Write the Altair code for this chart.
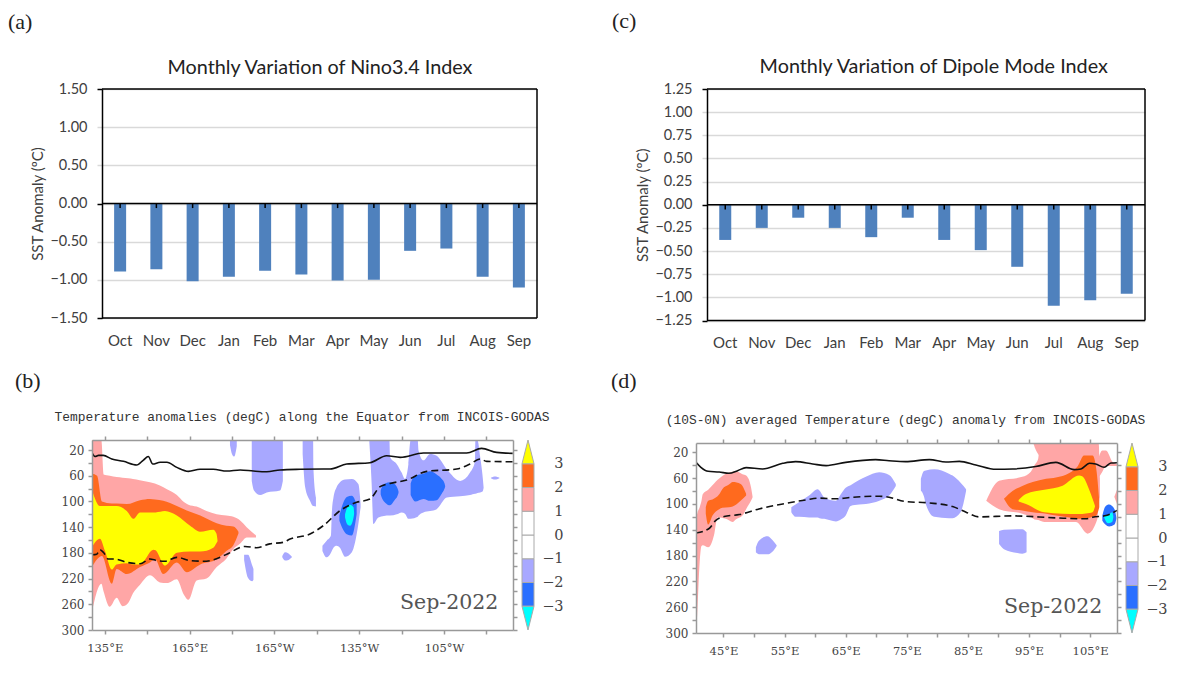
import altair as alt
import pandas as pd

MONTHS = ["Oct", "Nov", "Dec", "Jan", "Feb", "Mar", "Apr", "May", "Jun", "Jul", "Aug", "Sep"]
NINO = [-0.89, -0.86, -1.02, -0.96, -0.88, -0.93, -1.01, -1.00, -0.62, -0.59, -0.96, -1.10]
DMI = [-0.38, -0.25, -0.14, -0.25, -0.35, -0.14, -0.38, -0.49, -0.67, -1.09, -1.03, -0.96]
NINO_TICKS = [-1.5, -1.0, -0.5, 0.0, 0.5, 1.0, 1.5]
DMI_TICKS = [-1.25, -1.0, -0.75, -0.5, -0.25, 0.0, 0.25, 0.5, 0.75, 1.0, 1.25]

PINK, ORANGE, YELLOW = "#ffa6a6", "#ff6a1e", "#ffff00"
LBLUE, MBLUE, CYAN = "#a8a8ff", "#2a6fff", "#00ffff"

# Panel b contours: (longitude east, upper depth, lower depth)
B_PINK = [(130.5,4.4,272),(133.8,4.4,228),(134.6,58,240),(136.8,60,264),(139.2,62,250),(141.3,63,263),
          (143.3,64,258),(145,65,243),(147.4,67,230),(151,70,215),(154.5,75,226),(157,81,227),(160.5,90,221),
          (163,101,245),(164.6,105,253),(167.5,108,223),(171,115,220),(174.6,120,202),(178,122,189),
          (180.5,124,174),(183,130,165),(185.2,140,156),(188.5,153,156)]
B_ORANGE = [(130.5,57,202),(132.3,60,190),(134,100,185),(137.5,103,228),(139.2,103,205),(142.8,104,213),
            (147.5,98,202),(151,96,195),(152.8,97,190),(155.7,99,213),(160.5,107,195),(164,114,210),
            (168.8,122,198),(174.6,134,190),(178,138,177),(180.5,139,168),(182.3,147,150)]
B_YELLOW = [(130.5,82,171),(133.3,107,158),(135.1,107,177),(137.5,107,206),(139.2,107,198),(142.8,115,196),
            (145.1,127,198),(147.5,117,198),(152.2,117,175),(153,117,176),(156.3,115,200),(160.5,122,180),
            (165.2,138,178),(168.7,147,178),(173.4,144,172),(174.5,150,165),(174.9,161,162)]
B_BLUE_1 = [(179.3,4.4,12),(180,4.4,26),(180.8,4.4,30),(181.7,4.4,14)]
B_BLUE_2 = [(187,4.4,68),(187.8,4.4,83),(190,4.4,90),(192.3,4.4,86),(197,4.4,83),(198,4.4,68)]
B_BLUE_3 = [(184.3,183,191),(185.7,183,219),(187.2,200,224),(187.6,205,222)]
B_BLUE_4 = [(197.8,185,187),(198.8,179,192),(200,181,191),(201.2,186,187)]
B_BLUE_5 = [(205,4.5,26),(205.9,4.5,78),(207.6,4.5,99),(208.7,4.5,107),(208.8,47,107),(209.7,94,108)]
B_BLUE_6 = [(212,169,177),(213.5,161,187),(215,153,180),(215.3,120,177),(215.9,94,172),(217,78,169),(218.2,70,172),
            (220,66,186),(222.4,65,179),(224.7,73,135),(225.5,104,109)]
B_BLUE_7 = [(228.6,4.5,8),(229.4,4.5,72),(230,4.5,135),(231.8,4.5,125),(235.7,4.5,122),(235.9,31,122),
            (238.3,42,120),(240,55,117),(241.2,65,119),(242.4,42,127),(243.2,4.5,127),(245.7,4.5,124),
            (246,21,122),(247.7,36,117),(250.1,26,115),(252.4,29,112),(256,50,94),(260.7,68,92),(264.2,55,90),
            (266,37,88),(266.1,4.5,88),(266.8,4.5,87),(267.8,31,86),(268.7,63,84),(269,78,79)]
B_BLUE_8 = [(271.6,63,64),(273,61,66),(274.6,63,64)]
B_MID_1 = [(218,122,130),(219.2,104,143),(220.6,93,151),(222.4,91,153),(224.1,104,120)]
B_MID_2 = [(232.6,83,89),(233.2,76,96),(234.2,72,102),(235.9,70,106),(237.5,73,98),(238.5,79,92),(238.9,84,87)]
B_MID_3 = [(243.2,72,90),(243.8,65,95),(244.8,60,100),(247.7,57,96),(250.1,53,99),(252.4,58,98),(254.2,65,88),(255.2,72,80),(255.4,76,77)]
B_CYAN = [(220,120,125),(220.8,109,136),(221.8,105,138),(223,109,125),(223.2,117,120)]
B_SOLID_LON = [130.4,131.6,132.8,134.5,137.5,141.6,146.3,148.7,150.4,152,154.6,157,160.5,164.6,168.7,173.4,
               178.2,182.9,187.6,192.3,197,204.1,212.3,214.7,220.6,228.8,234.7,239.5,247.7,263,268.3,273.6,279.3]
B_SOLID_DEPTH = [23.6,30,28.3,28.3,34,37.6,43.3,35.6,30,41.8,39,39,47,53.2,50,50,52.7,51,52.7,53.7,51,50,
                 49.6,49.6,41.8,39.7,28.9,31.4,24.7,24.7,17.4,23.7,25.2]
B_DASH_LON = [130.4,132.2,133.3,134.5,136.3,138.6,142.8,147.5,151,153.4,156.3,160.5,165.2,169.9,173.4,178.2,
              184.6,188.7,193.4,198.1,200.55,207.6,212.3,218.2,224.1,228.8,232.4,235.9,241.8,248.9,259.5,264.2,
              267.8,270.1,279.3]
B_DASH_DEPTH = [183,182,175,179,189.6,189.6,194.7,197,189.6,192,193,187,192,193,191,182,170,172,166,163.6,158.5,
                150.7,137.7,114.4,101.4,96.3,77,72,66.7,53.2,49.6,41.8,34,37.7,38.2]

# Panel d contours
D_PINK_1 = [(40.5,126,300),(40.7,115,270),(41.1,105,190),(41.4,95,165),(41.6,85,164),(42.5,78,167),
            (43.5,68,146),(44,63,121),(45.4,53,123),(46.5,50,128),(47,49,124),(48.1,54,118),(48.7,56,108),
            (49.5,74,95),(49.75,88,90)]
D_ORANGE_1 = [(42.1,105,115),(42.5,95,132),(43.2,93,118),(44.3,85,108),(44.8,77,106),(45.9,70,105),(46.5,66,104),
              (47.8,69,95),(48.7,84,87)]
D_BLUE_1 = [(50.3,167,175),(50.8,157,178),(52.2,150,178),(53,156,174),(53.7,164,165)]
D_BLUE_2 = [(56.1,105,113),(56.8,101,120),(57.4,97,120),(59,87,121),(60.4,77,121),(60.7,79,122),(61.5,90,123),
            (63.4,95,127),(64.2,85,124),(65,75,118),(65.8,71,103),(67.2,63,101),(68.3,58,100),(70.5,51,95),
            (72.1,55,87),(73.2,69,72)]
D_BLUE_3 = [(77.3,61,79),(77.8,49,88),(78.1,48,100),(79.5,46,120),(81.9,53,122),(82.5,56,122),(83.8,67,113),(84.7,77,80)]
D_BLUE_4 = [(90.1,142,162),(90.9,140,170),(93.1,139,176),(93.9,139,177),(94.6,144,175)]
D_PINK_2 = [(88,95,95),(90.1,64,108),(93.9,58,115),(95.3,50,120),(95.9,40,124),(96.5,30,125),(96.8,5.5,126),(97.8,5.5,128),
            (102.7,5.5,128),(104.6,5.5,146),(106.2,5.5,123),(106.4,5.5,100),(106.6,60,90)]
D_PINK_3 = [(106.4,28,59),(107,17,50),(107.6,17,41),(108.7,35,41),(109.4,38,41)]
D_PINK_4 = [(109,88,90),(109.4,78,100)]
D_PINK_5 = [(95.7,5.5,6),(96.2,5.5,18),(96.9,5.5,27)]
D_ORANGE_2 = [(90.9,92,92),(92.3,80,108),(93.9,72,110),(95.6,66,113),(97.8,61,115),(99.4,59,118),(101.6,52,121),
              (103,41,123),(104,25,123),(105.4,25,120),(106,45,118),(106.5,95,105)]
D_YELLOW = [(93.3,94,96),(94.5,84.5,100),(97.5,78,113),(100.5,71.6,115),(103.2,56,115.4),(103.7,57,115.4),
            (104.9,79,114),(105.4,92,113),(105.8,103,104)]
D_MID = [(107,118,126),(107.5,104,132),(108.1,101,135),(109,108,132),(109.3,121,123)]
D_CYAN = [(107.3,119,121),(107.9,118,130),(108.6,113,128),(108.8,119,121)]
D_SOLID_LON = [40.5,41.3,42.5,44.3,45.9,47.3,48.7,51.4,54.7,56.8,59.6,61.8,65,69.9,72.1,74.8,78.7,81.4,83.6,86.3,
               89.6,92.3,96.1,99.4,102.4,103.5,104.9,105.9,107.3,108.4,109.4]
D_SOLID_DEPTH = [35.5,43.2,49.4,50.4,52.5,48.4,43.7,45.8,37,34.4,38,40.6,35.5,31.3,33,34.4,31.3,35,34,39.6,46.3,
                 45.8,42,35.5,46.8,45.8,37,38,43.2,36.5,36]
D_DASH_LON = [40.5,42.7,43.7,45.1,47.6,50.8,54.7,58.5,60.7,63.4,66.1,70.5,72.1,74.8,78.7,82.5,84.7,86.8,92.3,99.4,
              104.3,105.4,107.6,109.4]
D_DASH_DEPTH = [145,137.6,125.7,119.5,116.4,107.7,100,93.7,91,92,89.6,88,89.6,96.3,98.4,104,112.8,120,118.5,121.6,
                123,120.6,118,110]

BAR_LEVELS = [-3, -2, -1, 0, 1, 2]
BAR_COLORS = [MBLUE, LBLUE, "#ffffff", "#ffffff", PINK, ORANGE]
BAR_TICKS = [-3, -2, -1, 0, 1, 2, 3]

LONG_TICKS_B = [135, 150, 165, 180, 195, 210, 225, 240, 255, 270]
LONG_LABELS_B = {135: "135°E", 165: "165°E", 195: "165°W", 225: "135°W", 255: "105°W"}
LONG_TICKS_D = [45, 50, 55, 60, 65, 70, 75, 80, 85, 90, 95, 100, 105]
LONG_LABELS_D = {45: "45°E", 55: "55°E", 65: "65°E", 75: "75°E", 85: "85°E", 95: "95°E", 105: "105°E"}
DEPTH_TICKS = list(range(20, 301, 20))

OFFICE = "Lato"
GRADS = "DejaVu Serif"
GRADS_TITLE = "Liberation Mono"
TEXT = "#404040"
AX = "#999999"


def note(label, px, py, font="Liberation Serif", size=22, color="#222222", align="left"):
    return alt.Chart(pd.DataFrame({"t": [label]})).mark_text(
        align=align, baseline="alphabetic", font=font, fontSize=size, color=color
    ).encode(x=alt.value(px), y=alt.value(py), text="t:N")


def bars(title, title_xy, vals, ticks, dom, w, h, tag, tag_xy):
    df = pd.DataFrame({"m": MONTHS, "v": vals})
    band = alt.Scale(paddingInner=0, paddingOuter=0)
    ys = alt.Scale(domain=dom, nice=False)
    x = alt.X("m:N", sort=MONTHS, title=None, scale=band,
              axis=alt.Axis(domain=False, ticks=False, labelAngle=0, labelFont=OFFICE, labelFontSize=15,
                            labelColor=TEXT, labelPadding=15))
    y = alt.Y("v:Q", title="SST Anomaly (ºC)", stack=None, scale=ys,
              axis=alt.Axis(values=ticks, format=".2f", grid=True, gridColor="#d9d9d9", gridWidth=1.5,
                            domainColor="black", domainWidth=1.5, tickSize=5, tickWidth=1.5,
                            tickColor={"condition": {"test": f"abs(datum.value)=={dom[1]} || datum.value==0", "value": "black"}, "value": "#d9d9d9"},
                            labelFont=OFFICE, labelFontSize=14.5, labelColor=TEXT, labelPadding=10,
                            titleFont=OFFICE, titleFontSize=15, titleColor=TEXT, titleFontWeight="normal", titlePadding=4))
    bar = alt.Chart(df).mark_bar(size=12, color="#4f81bd").encode(x=x, y=y)
    edges = pd.DataFrame({"y": [dom[0], 0, dom[1]]})
    rules = alt.Chart(edges).mark_rule(color="black", strokeWidth=1.5).encode(
        y=alt.Y("y:Q", axis=None, scale=ys, title=None))
    side = alt.Chart(pd.DataFrame({"a": [dom[0]], "b": [dom[1]]})).mark_rule(color="black", strokeWidth=1.5).encode(
        x=alt.value(w), y=alt.Y("a:Q", axis=None, scale=ys, title=None), y2="b:Q")
    tdf = pd.DataFrame({"m": MONTHS, "a": [0.0] * 12, "b": [(dom[1] - dom[0]) * -0.02] * 12})
    stubs = alt.Chart(tdf).mark_rule(color="black", strokeWidth=1.5).encode(
        x=alt.X("m:N", sort=MONTHS, axis=None, title=None, scale=band),
        y=alt.Y("a:Q", axis=None, scale=ys, title=None), y2="b:Q")
    head = note(title, *title_xy, font=OFFICE, size=19.8, color="#222222", align="center")
    return alt.layer(bar, rules, side, stubs, head, note(tag, *tag_xy)).resolve_axis(x="independent", y="independent").properties(
        width=w, height=h)


def contour(rows, color, xs, ys):
    df = pd.DataFrame(rows, columns=["x", "t", "b"])
    return alt.Chart(df).mark_area(color=color, interpolate="monotone", clip=True, opacity=1).encode(
        x=alt.X("x:Q", scale=xs, axis=None, title=None),
        y=alt.Y("t:Q", scale=ys, axis=None, title=None, stack=None), y2="b:Q")


def curve(lon, dep, xs, ys, dash=None):
    df = pd.DataFrame({"x": lon, "d": dep})
    kw = {"strokeDash": dash} if dash else {}
    return alt.Chart(df).mark_line(color="#111111", strokeWidth=1.6, interpolate="monotone", clip=True, **kw).encode(
        x=alt.X("x:Q", scale=xs, axis=None, title=None),
        y=alt.Y("d:Q", scale=ys, axis=None, title=None))


def frame(ticks, labels, xs, ys, lo, hi):
    expr = " : ".join(f"datum.value=={k} ? '{v}'" for k, v in labels.items()) + " : ''"
    df = pd.DataFrame({"x": [lo, hi], "d": [300, 20]})
    common = dict(domainColor=AX, domainWidth=1.5, tickColor=AX, tickWidth=1.5, tickSize=4, grid=False, zindex=1)
    bottom = alt.Chart(df).mark_point(opacity=0).encode(
        x=alt.X("x:Q", scale=xs, title=None, axis=alt.Axis(
            orient="bottom", values=ticks, labelExpr=expr, labelFont=GRADS, labelFontSize=11.5, labelColor="#444444",
            labelPadding=8, labelOverlap=False, labelFlush=False, **common)),
        y=alt.Y("d:Q", scale=ys, title=None, axis=alt.Axis(
            orient="left", values=DEPTH_TICKS, labelExpr="(datum.value-20)%40==0 ? datum.value : ''",
            labelFont=GRADS, labelFontSize=12, labelColor="#444444", labelPadding=4, labelOverlap=False,
            labelFlush=False, **common)))
    top = alt.Chart(df).mark_point(opacity=0).encode(
        x=alt.X("x:Q", scale=xs, title=None, axis=alt.Axis(orient="top", values=ticks, labels=False, **common)),
        y=alt.Y("d:Q", scale=ys, title=None, axis=alt.Axis(orient="right", values=DEPTH_TICKS, labels=False, **common)))
    return bottom, top


def section(title, title_xy, fills, solid, dash, ticks, labels, xdom, ydom, w, h, tag, tag_xy, stamp_xy):
    xs = alt.Scale(domain=xdom, nice=False, zero=False)
    ys = alt.Scale(domain=ydom, nice=False, zero=False)
    bottom, top = frame(ticks, labels, xs, ys, xdom[0], xdom[1])
    layers = [bottom]
    layers += [contour(r, c, xs, ys) for r, c in fills]
    layers += [curve(*solid, xs, ys), curve(*dash, xs, ys, dash=[7, 4])]
    layers += [top, note("Sep-2022", *stamp_xy, font=GRADS, size=20.5, color="#555555"), note(tag, *tag_xy),
               note(title, *title_xy, font=GRADS_TITLE, size=12.9, color="#333333", align="center")]
    return alt.layer(*layers).resolve_axis(x="independent", y="independent").properties(width=w, height=h)


def colorbar(h):
    df = pd.DataFrame({"lo": BAR_LEVELS, "hi": [v + 1 for v in BAR_LEVELS], "c": BAR_COLORS})
    ys = alt.Scale(domain=[-4, 4], nice=False, zero=False)
    xs = alt.Scale(domain=[0, 1], nice=False)
    rect = alt.Chart(df).mark_rect(stroke="#aaaaaa", strokeWidth=1).encode(
        x=alt.value(0), x2=alt.value(12),
        y=alt.Y("lo:Q", scale=ys, title=None, axis=alt.Axis(
            orient="right", values=BAR_TICKS, domain=False, ticks=False, grid=False, labelAlign="right", labelPadding=29,
            labelFont=GRADS, labelFontSize=14.5, labelColor="#444444", labelFlush=False, labelOverlap=False)),
        y2="hi:Q", color=alt.Color("c:N", scale=None))
    tri = []
    for base, tip, col in [(3, 4, YELLOW), (-3, -4, CYAN)]:
        t = pd.DataFrame({"x": [0, 0.5, 1], "y": [base, tip, base], "y2": [base] * 3})
        tri.append(alt.Chart(t).mark_area(color=col, stroke="#aaaaaa", strokeWidth=1).encode(
            x=alt.X("x:Q", scale=xs, axis=None, title=None),
            y=alt.Y("y:Q", scale=ys, axis=None, title=None, stack=None), y2="y2:Q"))
    return alt.layer(rect, *tri).resolve_axis(x="independent", y="independent").properties(width=12, height=h)


def blank(w, h):
    return alt.Chart(pd.DataFrame({"v": [0]})).mark_point(opacity=0).encode(x=alt.value(0)).properties(width=w, height=h)


a = bars("Monthly Variation of Nino3.4 Index", (218, -15), NINO, NINO_TICKS, [-1.5, 1.5], 435, 229, "(a)", (-94, -60))
c = bars("Monthly Variation of Dipole Mode Index", (226.7, -15.7), DMI, DMI_TICKS, [-1.25, 1.25], 438, 231.5, "(c)", (-95, -60.7))
b = section("Temperature anomalies (degC) along the Equator from INCOIS-GODAS", (210, -19),
            [(B_PINK, PINK), (B_ORANGE, ORANGE), (B_YELLOW, YELLOW), (B_BLUE_1, LBLUE), (B_BLUE_2, LBLUE),
             (B_BLUE_3, LBLUE), (B_BLUE_4, LBLUE), (B_BLUE_5, LBLUE), (B_BLUE_6, LBLUE), (B_BLUE_7, LBLUE),
             (B_BLUE_8, LBLUE), (B_MID_1, MBLUE), (B_MID_2, MBLUE), (B_MID_3, MBLUE), (B_CYAN, CYAN)],
            (B_SOLID_LON, B_SOLID_DEPTH), (B_DASH_LON, B_DASH_DEPTH), LONG_TICKS_B, LONG_LABELS_B,
            [130.5, 279.4], [300, 4.4], 421, 190, "(b)", (-77, -52), (308, 169))
d = section("(10S-0N) averaged Temperature (degC) anomaly from INCOIS-GODAS", (209.5, -19),
            [(D_PINK_1, PINK), (D_ORANGE_1, ORANGE), (D_BLUE_1, LBLUE), (D_BLUE_2, LBLUE), (D_BLUE_3, LBLUE),
             (D_BLUE_4, LBLUE), (D_PINK_2, PINK), (D_PINK_3, PINK), (D_PINK_4, PINK), (D_PINK_5, PINK),
             (D_ORANGE_2, ORANGE), (D_YELLOW, YELLOW), (D_MID, MBLUE), (D_CYAN, CYAN)],
            (D_SOLID_LON, D_SOLID_DEPTH), (D_DASH_LON, D_DASH_DEPTH), LONG_TICKS_D, LONG_LABELS_D,
            [40.5, 109.4], [300, 5.5], 421, 190, "(d)", (-85, -55), (308, 170))

top_left = alt.hconcat(blank(1, 229), a, spacing=9, bounds="flush")
top_right = alt.hconcat(blank(1.3, 231.5), c, spacing=9, bounds="flush")
left = alt.vconcat(top_left, alt.hconcat(b, colorbar(190), spacing=9, bounds="flush"), spacing=22)
right = alt.vconcat(top_right, alt.hconcat(d, colorbar(190), spacing=9, bounds="flush"), spacing=19)
chart = alt.hconcat(left, right, spacing=48).properties(padding={"left": 0, "right": 0, "top": 2, "bottom": 0}, background="white").configure_view(stroke=None)

chart.save("out.html", embed_options={"renderer": "svg", "actions": False})
